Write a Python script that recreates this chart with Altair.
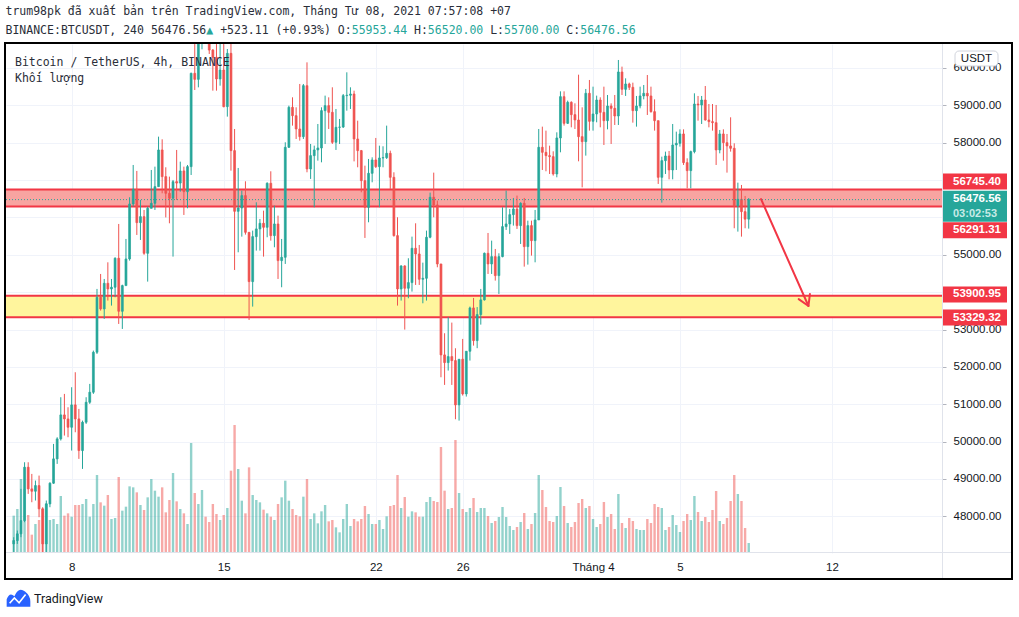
import altair as alt
import pandas as pd

# BINANCE:BTCUSDT, 4h candles. Bar 0 opens 5 Mar 2021 11:00 (UTC+7), last bar opens 8 Apr 07:00.
first_open = 47262.0
close = [
    47351, 47530, 47886, 49314, 48734, 48671, 48823, 48199, 47262, 48332,
    48886, 49537, 50072, 50714, 50607, 50384, 50982, 50607, 49760, 50518,
    51053, 51321, 52391, 53863, 53551, 54237, 54086, 54131, 54907, 53488,
    54175, 54889, 56360, 56753, 55861, 56021, 55040, 56244, 56378, 56824,
    57806, 57092, 56646, 56512, 56958, 56920, 57244, 56690, 57359, 59857,
    59696, 61100, 61500, 61000, 60480, 60285, 59706, 59946, 58965, 60392,
    57788, 56164, 56253, 56584, 55602, 54282, 55486, 55692, 55843, 55736,
    56914, 55513, 55825, 54844, 54933, 57877, 58947, 58724, 58367, 58162,
    59527, 57297, 57654, 57806, 57859, 58858, 58992, 58813, 58011, 58412,
    58420, 59260, 59270, 59304, 58100, 57788, 56985, 56271, 57181, 57538,
    57359, 57591, 57600, 57716, 57074, 55513, 54086, 54701, 54104, 54255,
    55174, 55022, 54345, 54371, 55469, 56539, 56334, 54755, 52320, 52115,
    52275, 52168, 50982, 52204, 51276, 52418, 53577, 52703, 53400, 53793,
    55040, 54755, 54951, 54443, 54951, 55754, 55825, 56075, 56226, 55781,
    56378, 55219, 55781, 55379, 55932, 57877, 57743, 57654, 57627, 57163,
    58127, 59233, 58519, 59081, 58751, 58608, 58162, 58028, 59322, 58573,
    58769, 59143, 58813, 58590, 58983, 58920, 58715, 59893, 59429, 59572,
    59483, 58858, 58983, 59251, 59322, 59251, 58831, 58590, 57074, 57520,
    57645, 57270, 57939, 57984, 58234, 57467, 57253, 57761, 59036, 59010,
    59143, 58608, 58564, 58537, 57806, 58234, 58002, 57913, 57850, 56307,
    56485, 56155, 55953.44, 56476.56,
]
high = [
    47440, 47619, 48734, 49447, 49447, 49135, 48957, 49090, 48243, 48422,
    48912, 49938, 50117, 51187, 51276, 50919, 51455, 51856, 50875, 50562,
    51187, 51544, 52436, 54086, 54487, 54353, 54799, 54353, 54933, 55825,
    54200, 55424, 56539, 57404, 57244, 56467, 56200, 56290, 57270, 57359,
    58162, 58091, 57342, 57092, 57003, 57806, 57493, 57359, 57404, 59875,
    60660, 61400, 61788, 61700, 61200, 60508, 60640, 60700, 60700, 60508,
    60700, 58367, 57324, 56717, 56967, 55602, 55647, 56405, 55959, 56182,
    56940, 57235, 56316, 56048, 55424, 58011, 58992, 59215, 58947, 59572,
    59572, 60151, 57966, 57921, 58501, 58947, 59260, 59215, 59483, 58903,
    58635, 59304, 59884, 59483, 59393, 58590, 57806, 57386, 57565, 57609,
    58127, 57921, 57904, 58457, 57788, 57208, 56004, 54720, 54720, 54907,
    55486, 55843, 55263, 54790, 55647, 56664, 57199, 56450, 54755, 52900,
    53328, 53185, 52498, 52204, 52748, 52418, 53613, 53845, 53600, 54086,
    55060, 55584, 55379, 55156, 55040, 56271, 56717, 56226, 56521, 56584,
    56405, 56521, 55914, 55914, 56200, 58367, 58430, 58323, 57921, 57770,
    58278, 59375, 59375, 59126, 59108, 59054, 59821, 58947, 59438, 59679,
    59500, 59260, 59215, 59500, 59277, 59054, 59277, 60214, 60036, 59723,
    59607, 59607, 59251, 59500, 59545, 59812, 59500, 59161, 58590, 57627,
    57761, 57779, 58501, 58296, 58358, 58358, 57582, 57788, 59322, 59251,
    59251, 59518, 59036, 59036, 59010, 58341, 58358, 58234, 58680, 57984,
    56931, 56869, 56574, 56520.00,
]
low = [
    46900, 47262, 47441, 47842, 48600, 48377, 48422, 47976, 46950, 46990,
    48243, 48868, 49403, 50028, 50161, 50117, 49760, 50250, 49537, 49269,
    50473, 51009, 51276, 52346, 53506, 53283, 53774, 53640, 53863, 53149,
    53015, 54175, 54844, 56290, 55531, 55397, 55000, 54282, 56244, 56200,
    56824, 56646, 56000, 55843, 54951, 56467, 56690, 56066, 56244, 57136,
    59411, 59482, 60500, 60700, 60375, 59393, 59393, 59527, 58947, 58698,
    57252, 54594, 55067, 55486, 55540, 53256, 53613, 55112, 55112, 54951,
    55469, 55379, 55201, 54353, 54131, 54755, 57859, 58457, 58100, 58055,
    58100, 57208, 57030, 56271, 57520, 57475, 57966, 58367, 57966, 57806,
    57966, 58394, 58858, 58903, 57500, 57342, 56673, 55451, 55870, 56940,
    57324, 56271, 57342, 57565, 56762, 55486, 53640, 53774, 52998, 53836,
    54015, 54193, 54193, 53702, 53774, 55442, 56004, 54666, 51722, 51517,
    51901, 51517, 50598, 50562, 51232, 51205, 52168, 52569, 52500, 53131,
    53774, 54487, 54487, 54309, 53952, 54933, 55665, 55558, 55781, 55692,
    55290, 54683, 54737, 54978, 54799, 55932, 57270, 57235, 57163, 57119,
    57074, 57743, 58457, 58501, 58412, 58367, 57502, 56806, 57654, 58323,
    58323, 58546, 58412, 57939, 58358, 57966, 58474, 58474, 59277, 59251,
    59411, 58537, 58430, 58920, 59161, 58742, 58805, 58323, 56896, 56396,
    57163, 57020, 57020, 57270, 57895, 57404, 56780, 56780, 57716, 58590,
    58501, 58590, 58412, 58323, 57404, 57716, 57520, 57199, 57761, 55710,
    55620, 55486, 55710, 55700.00,
]
volume = [
    6160, 7260, 12210, 10560, 6270, 3025, 4785, 5445, 7315, 8195,
    5445, 5610, 4785, 9405, 6160, 6545, 5995, 7920, 7920, 8085,
    8910, 5995, 8085, 12870, 8360, 7810, 9570, 5610, 5775, 12540,
    6985, 7645, 11000, 10835, 10010, 7920, 7095, 9185, 12210, 10285,
    9295, 10835, 6710, 8745, 13200, 8525, 7260, 6545, 4785, 18150,
    9900, 8085, 10395, 5995, 5115, 8085, 6435, 5445, 6270, 7425,
    13585, 21120, 13860, 8635, 6545, 14135, 9570, 8745, 8360, 7150,
    6545, 5995, 5445, 8085, 9185, 11935, 8635, 7260, 6270, 6050,
    9295, 12210, 5610, 6545, 4895, 6875, 7920, 5225, 5445, 4235,
    3410, 5610, 8085, 4455, 5610, 5225, 5610, 7755, 6435, 4785,
    4785, 5445, 3960, 6050, 7755, 7920, 12870, 7425, 9240, 5995,
    6875, 6710, 5995, 5995, 8415, 9240, 8580, 8415, 17490, 10285,
    7260, 7425, 18645, 9900, 7260, 6765, 7425, 9075, 6765, 7425,
    7425, 6105, 4950, 5280, 5940, 7590, 5940, 4455, 3795, 4290,
    5115, 6600, 3960, 4785, 6600, 12870, 10395, 7590, 5280, 5115,
    6105, 10890, 7755, 4950, 4290, 5115, 8250, 8910, 7425, 7755,
    5610, 4290, 4785, 8415, 5940, 6435, 3960, 9735, 4950, 4125,
    5775, 5280, 3960, 3795, 3795, 5610, 4950, 8085, 7590, 7425,
    3795, 4290, 6270, 4620, 3465, 5280, 6435, 5445, 9405, 6765,
    5280, 5940, 5115, 7095, 10230, 5280, 4785, 5775, 8580, 12870,
    9735, 8580, 4125, 1650,
]

# time axis: bar index of the first bar of each labelled day
day_ticks = [16, 58, 100, 124, 160, 184, 226]
day_labels = ["8", "15", "22", "26", "Tháng 4", "5", "12"]
price_ticks = [48000, 49000, 50000, 51000, 52000, 53000, 54000,
               55000, 56000, 57000, 58000, 59000, 60000]
# price levels whose scale label is covered by a marker box
covered_ticks = [54000, 56000, 57000]

# zones and the projected move drawn on the chart
resistance_zone = [56291.31, 56745.40]
support_zone = [53329.32, 53900.95]
arrow_bars = [206.4, 219.5]
arrow_prices = [56490.0, 53630.0]
countdown = "03:02:53"

publisher_line = "trum98pk đã xuất bản trên TradingView.com, Tháng Tư 08, 2021 07:57:08 +07"
symbol_text = "BINANCE:BTCUSDT, 240"
change_text = "+523.11 (+0.93%)"
legend_lines = ["Bitcoin / TetherUS, 4h, BINANCE", "Khối lượng"]

# ---------------------------------------------------------------- styling
UP, DOWN = "#26a69a", "#ef5350"
ZONE_LINE = "#f23645"
GRID = "#f0f3fa"
TEXT = "#131722"
MONO = "DejaVu Sans Mono"
SANS = "Liberation Sans"
W, H = 936, 509          # price pane
SCALE_W = 65             # price-scale label box width

n = len(close)
opens = [first_open] + close[:-1]
df = pd.DataFrame({"i": list(range(n)), "open": opens, "close": close,
                   "high": high, "low": low, "volume": volume})
df["dir"] = ["up" if c >= o else "down" for o, c in zip(opens, close)]

xs = alt.Scale(domain=[-0.75, 255.0], nice=False, zero=False)
ys = alt.Scale(domain=[47018, 60642], nice=False, zero=False)
cs = alt.Scale(domain=["up", "down"], range=[UP, DOWN])

x_label_expr = " : ".join(f"datum.value == {v} ? '{t}'" for v, t in zip(day_ticks, day_labels)) + " : ''"
y_label_expr = " || ".join(f"datum.value == {v}" for v in covered_ticks) + " ? '' : datum.label"
x_axis = alt.Axis(values=day_ticks, labelExpr=x_label_expr, title=None, grid=True,
                  gridColor=GRID, ticks=False, tickSize=0, domain=False, labelPadding=8,
                  labelFont=SANS, labelFontSize=11.5, labelColor=TEXT,
                  labelFlush=False, labelOverlap=False)
y_axis = alt.Axis(orient="right", values=price_ticks, format=".2f", labelExpr=y_label_expr,
                  title=None, grid=True, gridColor=GRID, tickSize=4, tickColor="#b2b5be",
                  domain=False, labelPadding=7, labelFont=SANS, labelFontSize=11.5,
                  labelColor=TEXT, labelFlush=False, labelOverlap=False)


def X(field="i"):
    return alt.X(f"{field}:Q", scale=xs, axis=x_axis)


def Y(field):
    return alt.Y(f"{field}:Q", scale=ys, axis=y_axis)


def one():
    return alt.Data(values=[{}])


def text_at(txt, x, y, color=TEXT, size=11.5, font=SANS, weight="normal", align="left"):
    return alt.Chart(one()).mark_text(
        align=align, baseline="middle", font=font, fontSize=size,
        fontWeight=weight, color=color,
    ).encode(x=alt.value(x), y=alt.value(y), text=alt.value(txt))


layers = []

# zones
for zone, fill in [(resistance_zone, "#f8a4a1"), (support_zone, "#fff59d")]:
    zd = pd.DataFrame({"lo": [zone[0]], "hi": [zone[1]]})
    layers.append(alt.Chart(zd).mark_rect(color=fill).encode(
        x=alt.value(0), x2=alt.value(W), y=Y("lo"), y2="hi:Q"))
    ed = pd.DataFrame({"p": zone})
    layers.append(alt.Chart(ed).mark_rule(color=ZONE_LINE, strokeWidth=2).encode(
        x=alt.value(0), x2=alt.value(W), y=Y("p")))

# candles
layers.append(alt.Chart(df).mark_rule(strokeWidth=1, clip=True).encode(
    x=X(), y=Y("low"), y2="high:Q", color=alt.Color("dir:N", scale=cs, legend=None)))
layers.append(alt.Chart(df).mark_bar(size=1.9, strokeWidth=0.7, clip=True).encode(
    x=X(), y=Y("open"), y2="close:Q",
    color=alt.Color("dir:N", scale=cs, legend=None),
    stroke=alt.Stroke("dir:N", scale=cs, legend=None)))

# last price line
lp = pd.DataFrame({"p": [close[-1]]})
layers.append(alt.Chart(lp).mark_rule(color=UP, strokeWidth=1, strokeDash=[1, 2]).encode(
    x=alt.value(0), x2=alt.value(W), y=Y("p")))

# projected move arrow
ad = pd.DataFrame({"i0": [arrow_bars[0]], "i1": [arrow_bars[1]],
                   "p0": [arrow_prices[0]], "p1": [arrow_prices[1]]})
layers.append(alt.Chart(ad).mark_rule(color=ZONE_LINE, strokeWidth=2, strokeCap="round").encode(
    x=X("i0"), x2="i1:Q", y=Y("p0"), y2="p1:Q"))
layers.append(alt.Chart(ad).mark_point(
    shape="M -0.6 -1 L 0 0 L 0.6 -1", filled=False, color=ZONE_LINE, strokeWidth=2,
    size=420, angle=336, opacity=1, strokeCap="round", strokeJoin="round").encode(
    x=X("i1"), y=Y("p1")))

# pane legend
layers.append(text_at(legend_lines[0], 9, 18.7, font=MONO, color="#2a2e39"))
layers.append(text_at(legend_lines[1], 9, 35.3, font=MONO, color="#2a2e39"))


# price-scale labels
def price_box(value, color, offset, height=16):
    d = pd.DataFrame({"p": [value]})
    box = alt.Chart(d).mark_rule(color=color, strokeWidth=height, strokeCap="butt",
                                 yOffset=offset).encode(
        x=alt.value(W), x2=alt.value(W + SCALE_W), y=Y("p"))
    return box, d


for value, off in [(resistance_zone[1], -8), (resistance_zone[0], 23.7),
                   (support_zone[1], -1.4), (support_zone[0], 0.3)]:
    box, d = price_box(value, ZONE_LINE, off)
    layers.append(box)
    layers.append(alt.Chart(d).mark_text(
        align="left", baseline="middle", font=SANS, fontSize=11.5, fontWeight="bold",
        color="white", yOffset=off).encode(
        x=alt.value(W + 11), y=Y("p"), text=alt.Text("p:Q", format=".2f")))

box, d = price_box(close[-1], UP, 6.6, height=31)
layers.append(box)
layers.append(alt.Chart(d).mark_text(
    align="left", baseline="middle", font=SANS, fontSize=11.5, fontWeight="bold",
    color="white", yOffset=-0.8).encode(
    x=alt.value(W + 11), y=Y("p"), text=alt.Text("p:Q", format=".2f")))
layers.append(alt.Chart(d).mark_text(
    align="left", baseline="middle", font=SANS, fontSize=11, fontWeight="bold",
    color="#c8ebe7", yOffset=14.2).encode(x=alt.value(W + 11), y=Y("p"), text=alt.value(countdown)))

# currency badge
layers.append(alt.Chart(one()).mark_rect(fill="white", stroke="#d1d4dc", strokeWidth=1,
                                         cornerRadius=4).encode(
    x=alt.value(949), x2=alt.value(992), y=alt.value(7), y2=alt.value(22)))
layers.append(text_at("USDT", 970.5, 14.5, align="center"))

# separators and frame
layers.append(alt.Chart(one()).mark_rule(color="#e0e3eb", strokeWidth=1).encode(
    x=alt.value(W + 0.5), y=alt.value(0), y2=alt.value(535)))
layers.append(alt.Chart(one()).mark_rule(color="#e0e3eb", strokeWidth=1).encode(
    x=alt.value(0), x2=alt.value(1006), y=alt.value(H - 0.5)))
layers.append(alt.Chart(one()).mark_rect(fill=None, stroke="#000000", strokeWidth=2).encode(
    x=alt.value(-1), x2=alt.value(1006), y=alt.value(-1), y2=alt.value(535)))

# header
layers.append(text_at(publisher_line, -0.5, -32, font=MONO, color="#2a2e39"))
cw = 11.5 * 0.6021
segments = [
    (f"{symbol_text} {close[-1]:.2f}", "#2a2e39"),
    ("▲", UP),
    (f" {change_text} O:", "#2a2e39"),
    (f"{opens[-1]:.2f}", UP),
    (" H:", "#2a2e39"), (f"{high[-1]:.2f}", UP),
    (" L:", "#2a2e39"), (f"{low[-1]:.2f}", UP),
    (" C:", "#2a2e39"), (f"{close[-1]:.2f}", UP),
]
pos = 0
for s, col in segments:
    stripped = s.lstrip(" ")
    start = pos + len(s) - len(stripped)
    layers.append(text_at(stripped, -0.5 + start * cw, -13, font=MONO, color=col))
    pos += len(s)

# footer logo
layers.append(alt.Chart(one()).mark_point(
    shape="M -1 0.75 L -1 0.1 Q -0.75 -0.55 -0.35 -0.15 Q 0 -1 0.55 -0.55 Q 1 -0.2 1 0.3 L 1 0.75 Z",
    filled=True, color="#2962ff", size=560, opacity=1).encode(
    x=alt.value(12.5), y=alt.value(554)))
layers.append(alt.Chart(one()).mark_point(
    shape="M -0.75 0.45 L -0.35 0.0 L 0.05 0.4 L 0.6 -0.3", filled=False, color="white",
    strokeWidth=1.6, size=560, opacity=1).encode(x=alt.value(12.5), y=alt.value(554)))
layers.append(text_at("TradingView", 28, 555, size=12.5, font="Roboto"))

price_group = alt.layer(*layers)

vol = alt.Chart(df).mark_bar(size=2.4, opacity=0.5, clip=True).encode(
    x=X(),
    y=alt.Y("volume:Q", scale=alt.Scale(domain=[0, 84000], nice=False), axis=None),
    color=alt.Color("dir:N", scale=cs, legend=None))

chart = alt.layer(vol, price_group).resolve_scale(y="independent").properties(
    width=W, height=H,
    padding={"left": 6, "top": 44, "right": 77, "bottom": 64},
    autosize=alt.AutoSizeParams(type="none"),
    background="white",
).configure_view(stroke=None)

chart.save("out.html", embed_options={"renderer": "svg", "actions": False})
